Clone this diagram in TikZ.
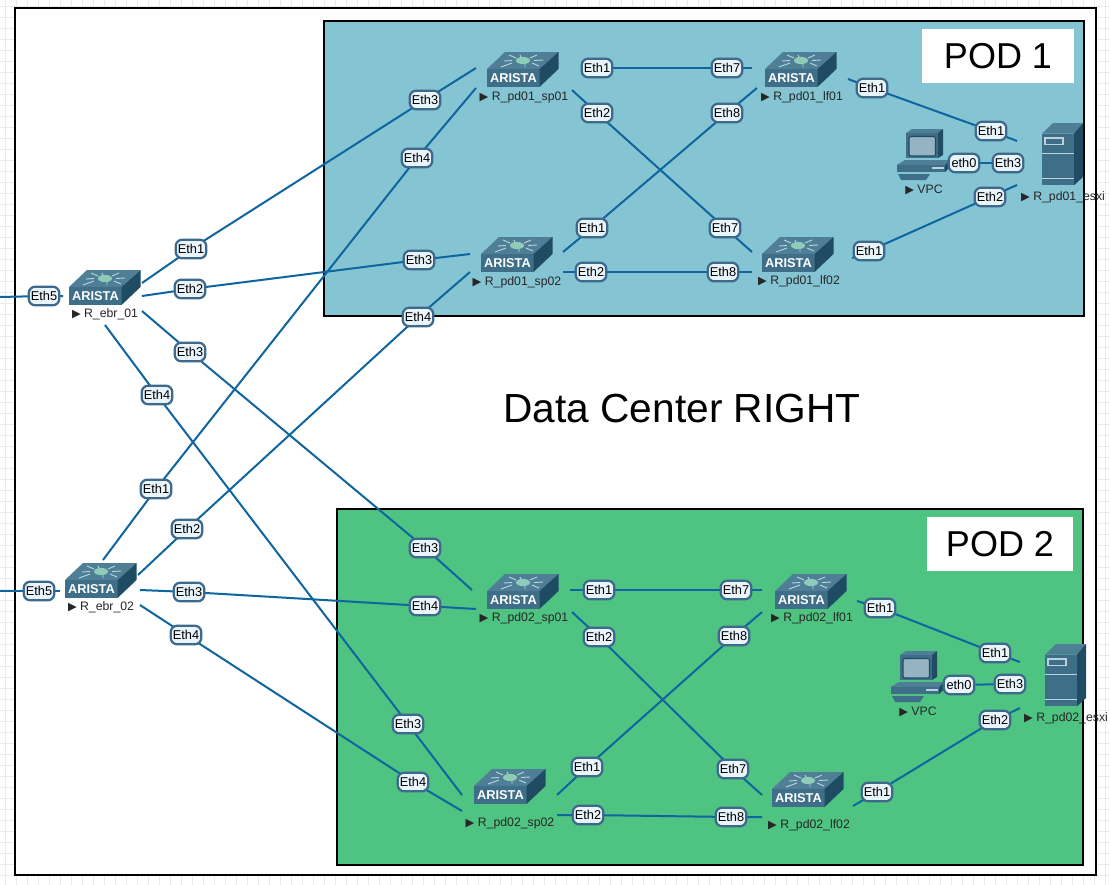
\documentclass[tikz,border=0pt]{standalone}
\usepackage{fontspec}
\setmainfont{Liberation Sans}
\newfontfamily\symfont{DejaVu Sans}
\pgfdeclarelayer{backplane}
\pgfdeclarelayer{wires}
\pgfsetlayers{backplane,wires,main}
\definecolor{podblue}{HTML}{85C4D3}
\definecolor{podgreen}{HTML}{4FC381}
\definecolor{linkblue}{HTML}{0F659F}
\definecolor{labelline}{HTML}{3D6A8C}
\definecolor{labelfill}{HTML}{E9F4FB}
\definecolor{icontop}{HTML}{4F7F96}
\definecolor{iconfront}{HTML}{3F6F88}
\definecolor{iconside}{HTML}{1F4C63}
\definecolor{iconlight}{HTML}{B9D2DC}
\tikzset{
    link/.style={line width=1.5pt, linkblue},
    ethlabel/.style={draw=labelline, fill=labelfill, line width=1.7pt, rounded corners=5pt,
        minimum width=23pt, minimum height=14pt, inner sep=1pt, font=\fontsize{9.6}{11}\selectfont},
    devlabel/.style={inner sep=0pt, text=black!85, font=\fontsize{9.2}{11}\selectfont},
    podframe/.style={draw=black, line width=2.2pt},
    podtitle/.style={fill=white, font=\fontsize{27}{32}\selectfont},
    switchicon/.pic={
        \fill[icontop] (0,17) -- (18,0) -- (71.5,0) -- (52.5,17) -- cycle;
        \fill[iconfront] (0,17) rectangle (52.5,35);
        \fill[iconside] (52.5,17) -- (71.5,0) -- (71.5,17) -- (52.5,35) -- cycle;
        \draw[iconlight, line width=0.7pt] (22,3) -- (29,6) (50,3) -- (43,6) (17,9) -- (25,8.5)
            (56,8) -- (47,8.5) (14,15) -- (25,11) (52,14) -- (45,11) (33,3) -- (34,5) (38,15) -- (38,12);
        \fill[iconlight!60!podgreen] (36,8.5) ellipse (7 and 3.6);
        \node[inner sep=0pt, text=white, font=\bfseries\fontsize{9.6}{12}\selectfont] (brand) at (26.5,26.5) {ARISTA};
    },
    servericon/.pic={
        \fill[icontop] (0,10.7) -- (11,0) -- (41,0) -- (32,10.7) -- cycle;
        \fill[iconfront] (0,10.7) rectangle (32,62.3);
        \fill[iconside] (32,10.7) -- (41,0) -- (41,54) -- (32,62.3) -- cycle;
        \draw[iconlight, line width=0.7pt] (0,30) -- (32,30) (0,55.5) -- (32,55.5);
        \draw[iconlight, line width=0.8pt] (3,15) rectangle (21,21.5);
    },
    pcicon/.pic={
        \fill[icontop] (10,4) -- (16,0) -- (47,0) -- (42,4) -- cycle;
        \fill[iconfront] (10,4) rectangle (42,29);
        \fill[iconside] (42,4) -- (47,0) -- (47,26) -- (42,29) -- cycle;
        \draw[iconside, fill=iconlight!70!iconfront, line width=0.8pt, rounded corners=1.5pt] (13,7.5) rectangle (39.5,27);
        \fill[icontop] (0.7,36) -- (9,31) -- (54,31) -- (49,36) -- cycle;
        \fill[iconfront] (0.7,36) rectangle (49,43);
        \fill[iconside] (49,36) -- (54,31) -- (54,38) -- (49,43) -- cycle;
        \fill[iconlight] (36,38) rectangle (48,40);
        \fill[iconfront] (2,45) -- (34,45) -- (30,51) -- (5,51) -- cycle;
    },
}
\begin{document}
\begin{tikzpicture}[x=0.75pt, y=-0.75pt]
    \useasboundingbox (0,0) rectangle (1110,885);

    \begin{pgfonlayer}{backplane}
    % Page grid
    \foreach \x in {5,16,...,1105} \draw[black!8, line width=0.5pt] (\x,0) -- (\x,885);
    \foreach \y in {6,17,...,885} \draw[black!8, line width=0.5pt] (0,\y) -- (1110,\y);

    % Frames
    \draw[draw=black, fill=white, line width=2.2pt] (15,8) rectangle (1096,875);
    \draw[podframe, fill=podblue] (324,21) rectangle (1084,316);
    \draw[podframe, fill=podgreen] (337,509) rectangle (1083,865);
    \end{pgfonlayer}

    % Titles
    \node[podtitle, minimum width=114pt, minimum height=41pt] (pod1title) at (998,56) {POD 1};
    \node[podtitle, minimum width=110pt, minimum height=40pt] (pod2title) at (1000,544) {POD 2};
    \node[inner sep=0pt, font=\fontsize{30.5}{36}\selectfont] (dctitle) at (682,408) {Data Center RIGHT};

    % Icons
    \pic (ebr1) at (69,270) {switchicon};
    \pic (ebr2) at (65,563) {switchicon};
    \pic (p1s1) at (487,52) {switchicon};
    \pic (p1l1) at (765,52) {switchicon};
    \pic (p1s2) at (481,237) {switchicon};
    \pic (p1l2) at (762,237) {switchicon};
    \pic (p2s1) at (487,574) {switchicon};
    \pic (p2l1) at (775,574) {switchicon};
    \pic (p2s2) at (474,769) {switchicon};
    \pic (p2l2) at (772,772) {switchicon};
    \pic (p1x) at (1042,123) {servericon};
    \pic (p2x) at (1045,644) {servericon};
    \pic (p1v) at (896,129) {pcicon};
    \pic (p2v) at (890,651) {pcicon};

    % Device names
    \foreach \nm/\x/\y/\txt in {ebr1/105/314/R\_ebr\_01, ebr2/101/607/R\_ebr\_02,
        p1s1/524/97/R\_pd01\_sp01, p1l1/802/97/R\_pd01\_lf01, p1s2/517/282/R\_pd01\_sp02,
        p1l2/799/281/R\_pd01\_lf02, p1v/924/190/VPC, p1x/1063/197/R\_pd01\_esxi,
        p2s1/524/618/R\_pd02\_sp01, p2l1/812/618/R\_pd02\_lf01, p2s2/510/823/R\_pd02\_sp02,
        p2l2/809/825/R\_pd02\_lf02, p2v/918/712/VPC, p2x/1066/718/R\_pd02\_esxi}
        \node[devlabel] (\nm-name) at (\x,\y) {{\symfont\fontsize{8.5}{9}\selectfont ▶}\ \txt};

    % Ports
    \foreach \nm/\x/\y in {ebr1-p1/142/283, ebr1-p2/142/296, ebr1-p3/142/311, ebr1-p4/105/325, ebr1-p5/63/296,
        ebr2-p1/103/560, ebr2-p2/138/575, ebr2-p3/140/590, ebr2-p4/140/605, ebr2-p5/60/591,
        p1s1-p1/583/68, p1s1-p2/572/90, p1s1-p3/476/68, p1s1-p4/476/88,
        p1s2-p1/563/252, p1s2-p2/563/272, p1s2-p3/470/254, p1s2-p4/470/272,
        p1l1-p7/752/68, p1l1-p8/757/88, p1l1-p1/848/79,
        p1l2-p7/752/252, p1l2-p8/752/272, p1l2-p1/852/258,
        p1x-p1/1017/141, p1x-p2/1017/185,
        p2s1-p1/570/590, p2s1-p2/572/612, p2s1-p3/472/590, p2s1-p4/476/609,
        p2s2-p1/557/795, p2s2-p2/557/815, p2s2-p3/462/795, p2s2-p4/462/811,
        p2l1-p7/762/590, p2l1-p8/762/612, p2l1-p1/857/601,
        p2l2-p7/762/795, p2l2-p8/762/817, p2l2-p1/853/806,
        p2x-p1/1020/662, p2x-p2/1020/708, ebr1-edge/0/297, ebr2-edge/0/591}
        \coordinate (\nm) at (\x,\y);

    % Interface labels
    \foreach \nm/\x/\y/\txt in {ebr1-e1/191/249/Eth1, ebr1-e2/190/289/Eth2, ebr1-e3/190/352/Eth3, ebr1-e4/157/395/Eth4, ebr1-e5/44/296/Eth5,
        ebr2-e1/156/489/Eth1, ebr2-e2/187/529/Eth2, ebr2-e3/189/592/Eth3, ebr2-e4/186/635/Eth4, ebr2-e5/39/591/Eth5,
        p1s1-e1/597/68/Eth1, p1s1-e2/597/113/Eth2, p1s1-e3/425/100/Eth3, p1s1-e4/417/158/Eth4,
        p1s2-e1/592/228/Eth1, p1s2-e2/591/272/Eth2, p1s2-e3/419/260/Eth3, p1s2-e4/418/317/Eth4,
        p1l1-e7/727/68/Eth7, p1l1-e8/727/113/Eth8, p1l1-e1/872/88/Eth1,
        p1l2-e7/725/228/Eth7, p1l2-e8/723/272/Eth8, p1l2-e1/869/251/Eth1,
        p1x-e1/991/131/Eth1, p1x-e2/990/197/Eth2, p1x-e3/1008/163/Eth3, p1v-e0/964/163/eth0,
        p2s1-e1/599/590/Eth1, p2s1-e2/599/637/Eth2, p2s1-e3/425/548/Eth3, p2s1-e4/425/606/Eth4,
        p2s2-e1/587/767/Eth1, p2s2-e2/588/815/Eth2, p2s2-e3/408/724/Eth3, p2s2-e4/413/782/Eth4,
        p2l1-e7/736/590/Eth7, p2l1-e8/734/636/Eth8, p2l1-e1/880/608/Eth1,
        p2l2-e7/733/769/Eth7, p2l2-e8/731/817/Eth8, p2l2-e1/877/792/Eth1,
        p2x-e1/995/653/Eth1, p2x-e2/995/720/Eth2, p2x-e3/1010/684/Eth3, p2v-e0/959/685/eth0}
        \node[ethlabel] (\nm) at (\x,\y) {\txt};

    % Links
    \begin{pgfonlayer}{wires}
    \foreach \a/\i/\b/\j in {ebr1/1/p1s1/3, ebr1/2/p1s2/3, ebr1/3/p2s1/3, ebr1/4/p2s2/3,
        ebr2/1/p1s1/4, ebr2/2/p1s2/4, ebr2/3/p2s1/4, ebr2/4/p2s2/4,
        p1s1/1/p1l1/7, p1s1/2/p1l2/7, p1s2/1/p1l1/8, p1s2/2/p1l2/8,
        p1l1/1/p1x/1, p1l2/1/p1x/2,
        p2s1/1/p2l1/7, p2s1/2/p2l2/7, p2s2/1/p2l1/8, p2s2/2/p2l2/8,
        p2l1/1/p2x/1, p2l2/1/p2x/2}
        \draw[link] (\a-p\i) -- (\a-e\i.center) -- (\b-e\j.center) -- (\b-p\j);
    \draw[link] (ebr1-edge) -- (ebr1-e5.center) -- (ebr1-p5);
    \draw[link] (ebr2-edge) -- (ebr2-e5.center) -- (ebr2-p5);
    \draw[link] (p1v-e0) -- (p1x-e3);
    \draw[link] (p2v-e0) -- (p2x-e3);
    \end{pgfonlayer}
\end{tikzpicture}
\end{document}
